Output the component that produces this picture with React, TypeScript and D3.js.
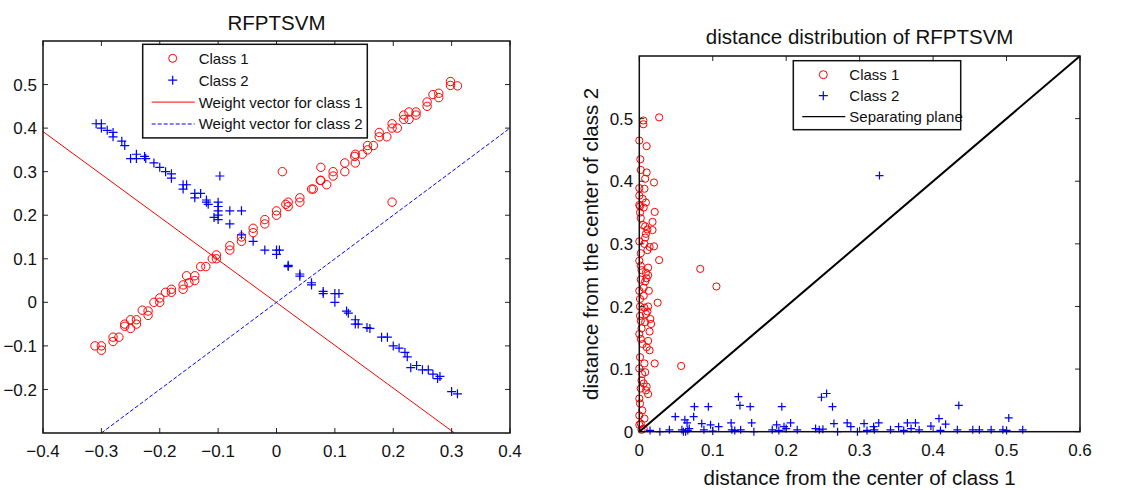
import React, { useRef, useEffect } from "react";
import * as d3 from "d3";

type Pt = [number, number];

// left panel: samples and weight vectors
const leftClass1: Pt[] = [
  [0.298, 0.507], [0.298, 0.498], [0.31, 0.497], [0.268, 0.477], [0.278, 0.48], [0.278, 0.47],
  [0.258, 0.46], [0.258, 0.45], [0.239, 0.437], [0.227, 0.437], [0.227, 0.42], [0.218, 0.43],
  [0.218, 0.42], [0.239, 0.43], [0.198, 0.41], [0.198, 0.4], [0.207, 0.4], [0.176, 0.39],
  [0.176, 0.38], [0.189, 0.38], [0.166, 0.36], [0.156, 0.36], [0.156, 0.35], [0.147, 0.34],
  [0.135, 0.34], [0.134, 0.335], [0.135, 0.32], [0.117, 0.32], [0.117, 0.3], [0.097, 0.3],
  [0.097, 0.29], [0.076, 0.31], [0.076, 0.28], [0.086, 0.27], [0.075, 0.28], [0.01, 0.3],
  [0.198, 0.23], [0.06, 0.26], [0.063, 0.26], [0.04, 0.24], [0.04, 0.23], [0.02, 0.23],
  [0.02, 0.22], [0.016, 0.225], [0.0, 0.21], [0.0, 0.2], [-0.02, 0.19], [-0.02, 0.18],
  [-0.04, 0.17], [-0.04, 0.16], [-0.06, 0.15], [-0.06, 0.14], [-0.08, 0.13], [-0.08, 0.12],
  [-0.103, 0.109], [-0.103, 0.1], [-0.11, 0.1], [-0.121, 0.082], [-0.13, 0.082], [-0.154, 0.061],
  [-0.14, 0.061], [-0.14, 0.05], [-0.15, 0.045], [-0.16, 0.04], [-0.16, 0.03], [-0.18, 0.03],
  [-0.18, 0.023], [-0.19, 0.023], [-0.2, 0.01], [-0.2, 0.0], [-0.21, 0.0], [-0.22, -0.02],
  [-0.23, -0.018], [-0.22, -0.03], [-0.24, -0.04], [-0.24, -0.05], [-0.25, -0.04], [-0.25, -0.06],
  [-0.26, -0.05], [-0.26, -0.055], [-0.27, -0.08], [-0.28, -0.08], [-0.28, -0.09], [-0.311, -0.1],
  [-0.3, -0.1], [-0.3, -0.11],
];

const leftClass2: Pt[] = [
  [-0.309, 0.41], [-0.3, 0.41], [-0.3, 0.4], [-0.29, 0.395], [-0.28, 0.39], [-0.28, 0.38],
  [-0.265, 0.37], [-0.26, 0.36], [-0.25, 0.33], [-0.24, 0.34], [-0.24, 0.33], [-0.226, 0.335],
  [-0.224, 0.33], [-0.21, 0.32], [-0.2, 0.31], [-0.19, 0.3], [-0.18, 0.295], [-0.18, 0.285],
  [-0.16, 0.27], [-0.154, 0.27], [-0.16, 0.26], [-0.14, 0.25], [-0.13, 0.25], [-0.14, 0.24],
  [-0.12, 0.235], [-0.12, 0.23], [-0.117, 0.225], [-0.1, 0.23], [-0.1, 0.22], [-0.1, 0.21],
  [-0.1, 0.2], [-0.107, 0.195], [-0.1, 0.19], [-0.097, 0.29], [-0.08, 0.21], [-0.06, 0.21],
  [-0.08, 0.18], [-0.06, 0.155], [-0.04, 0.14], [-0.02, 0.12], [0.0, 0.11], [0.0, 0.12],
  [0.005, 0.12], [0.02, 0.082], [0.02, 0.085], [0.04, 0.065], [0.04, 0.06], [0.06, 0.045],
  [0.06, 0.04], [0.08, 0.025], [0.08, 0.02], [0.1, 0.02], [0.107, 0.02], [0.1, 0.0],
  [0.12, -0.02], [0.123, -0.025], [0.135, -0.04], [0.135, -0.05], [0.14, -0.05], [0.155, -0.058],
  [0.16, -0.06], [0.18, -0.08], [0.19, -0.08], [0.2, -0.1], [0.21, -0.105], [0.22, -0.115],
  [0.224, -0.125], [0.23, -0.15], [0.24, -0.145], [0.25, -0.155], [0.26, -0.155], [0.268, -0.165],
  [0.276, -0.175], [0.28, -0.17], [0.3, -0.205], [0.31, -0.21],
];

const weight1: Pt[] = [[-0.4, 0.392], [0.305, -0.3]];
const weight2: Pt[] = [[-0.3, -0.3], [0.4, 0.4]];

// right panel: distances to the two centers
const rightClass1: Pt[] = [
  [0.0055, 0.497], [0.0055, 0.491], [0.027, 0.502], [0, 0.465], [0.01, 0.456], [0.0014, 0.435],
  [0.002, 0.418], [0.01, 0.414], [0.008, 0.404], [0.02, 0.398], [0, 0.389], [0.007, 0.388],
  [0, 0.377], [0.0045, 0.372], [0, 0.362], [0.001, 0.36], [0.006, 0.358], [0.009, 0.366],
  [0.021, 0.351], [0.002, 0.341], [0.008, 0.328], [0.018, 0.335], [0.011, 0.323], [0.018, 0.322],
  [0.009, 0.316], [0, 0.304], [0.014, 0.295], [0.02, 0.296], [0.011, 0.29], [0.027, 0.274],
  [0, 0.273], [0.002, 0.265], [0.009, 0.254], [0.002, 0.243], [0.012, 0.25], [0.008, 0.24],
  [0, 0.225], [0.006, 0.217], [0.013, 0.225], [0.001, 0.212], [0.025, 0.206], [0.007, 0.198],
  [0.001, 0.185], [0.009, 0.188], [0.015, 0.18], [0.002, 0.177], [0.016, 0.172], [0, 0.156],
  [0.014, 0.16], [0.0045, 0.14], [0.012, 0.145], [0.001, 0.119], [0.014, 0.13], [0.007, 0.109],
  [0.021, 0.109], [0, 0.101], [0.057, 0.105], [0.083, 0.26], [0.105, 0.232],
  [0.003, 0.082], [0.006, 0.077], [0.002, 0.069], [0.009, 0.066], [0, 0.053], [0.001, 0.045],
  [0.004, 0.034], [0, 0.026], [0.007, 0.021], [0.002, 0.013], [0, 0.011], [0.006, 0.005],
  [0.01, 0.072], [0.012, 0.06], [0.004, 0.092], [0.008, 0.095], [0.003, 0.003],
  [0.002, 0.148], [0.01, 0.135], [0.003, 0.165], [0.008, 0.175], [0.011, 0.192], [0.001, 0.2],
  [0.006, 0.23], [0.01, 0.245], [0.003, 0.258], [0.012, 0.262], [0.002, 0.285], [0.007, 0.3],
  [0.001, 0.35], [0.005, 0.33], [0.008, 0.31], [0.012, 0.2],
];

const rightClass2: Pt[] = [
  [0.0146, 0.002], [0.028, 0], [0.041, 0.003], [0.049, 0.024], [0.058, 0.003], [0.062, 0.019],
  [0.065, 0.014], [0.068, 0.005], [0.074, 0.024], [0.075, 0.04], [0.085, 0.013], [0.094, 0.04],
  [0.088, 0.003], [0.097, 0.011], [0.108, 0.008], [0.125, 0.014], [0.126, 0.003], [0.135, 0.056],
  [0.137, 0.042], [0.138, 0.003], [0.151, 0.04], [0.153, 0.014], [0.156, 0], [0.181, 0.003],
  [0.187, 0.011], [0.194, 0.04], [0.197, 0.008], [0.206, 0.014], [0.215, 0.003], [0.24, 0.005],
  [0.248, 0.055], [0.255, 0.061], [0.263, 0.04], [0.265, 0.013], [0.27, 0], [0.283, 0.014],
  [0.288, 0.008], [0.297, 0], [0.306, 0.013], [0.319, 0.008], [0.326, 0.014], [0.342, 0.003],
  [0.353, 0.008], [0.365, 0.014], [0.376, 0.014], [0.381, 0.003], [0.397, 0.009], [0.408, 0.021],
  [0.417, 0.012], [0.433, 0.003], [0.435, 0.042], [0.454, 0.003], [0.463, 0.003], [0.479, 0.003],
  [0.495, 0.003], [0.503, 0.022], [0.522, 0.003], [0.327, 0.409],
  [0.06, 0], [0.063, 0], [0.066, 0.002], [0.1, 0.001], [0.13, 0.002], [0.19, 0.002], [0.2, 0.005],
  [0.245, 0.003], [0.25, 0.004], [0.31, 0.002], [0.32, 0.003], [0.36, 0.002], [0.37, 0.005],
  [0.41, 0.002], [0.5, 0.002],
];

const separatingPlane: Pt[] = [[0, 0], [0.6, 0.6]];

const leftXTicks = [-0.4, -0.3, -0.2, -0.1, 0, 0.1, 0.2, 0.3, 0.4];
const leftYTicks = [-0.2, -0.1, 0, 0.1, 0.2, 0.3, 0.4, 0.5];
const rightXTicks = [0, 0.1, 0.2, 0.3, 0.4, 0.5, 0.6];
const rightYTicks = [0, 0.1, 0.2, 0.3, 0.4, 0.5];

const FONT = "'Liberation Sans', Arial, sans-serif";
const AXIS = "#262626";

const fmt = (v: number) => (Math.abs(v) < 1e-9 ? "0" : d3.format("")(+v.toFixed(2)));

const drawAxes = (g, x, y, xTicks, yTicks) => {
  const [x0, x1] = x.range();
  const [y0, y1] = y.range();
  const tl = 5;
  xTicks.forEach((t) => {
    g.append("line").attr("x1", x(t)).attr("x2", x(t)).attr("y1", y0).attr("y2", y0 - tl).attr("stroke", AXIS);
    g.append("line").attr("x1", x(t)).attr("x2", x(t)).attr("y1", y1).attr("y2", y1 + tl).attr("stroke", AXIS);
    g.append("text").attr("x", x(t)).attr("y", y0 + 24).attr("text-anchor", "middle")
      .attr("font-size", 17).attr("fill", "#111").text(fmt(t));
  });
  yTicks.forEach((t) => {
    g.append("line").attr("x1", x0).attr("x2", x0 + tl).attr("y1", y(t)).attr("y2", y(t)).attr("stroke", AXIS);
    g.append("line").attr("x1", x1).attr("x2", x1 - tl).attr("y1", y(t)).attr("y2", y(t)).attr("stroke", AXIS);
    g.append("text").attr("x", x0 - 6).attr("y", y(t)).attr("dy", "0.36em").attr("text-anchor", "end")
      .attr("font-size", 17).attr("fill", "#111").text(fmt(t));
  });
  g.append("rect").attr("x", x0).attr("y", y1).attr("width", x1 - x0).attr("height", y0 - y1)
    .attr("fill", "none").attr("stroke", "#111").attr("stroke-width", 1.5);
};

const drawCircles = (g, data, x, y, r) => {
  g.selectAll(null).data(data).enter().append("circle")
    .attr("cx", (d) => x(d[0])).attr("cy", (d) => y(d[1])).attr("r", r)
    .attr("fill", "none").attr("stroke", "#ff0000").attr("stroke-width", 1);
};

const drawCrosses = (g, data, x, y, h) => {
  g.selectAll(null).data(data).enter().append("path")
    .attr("d", (d) => {
      const cx = x(d[0]);
      const cy = y(d[1]);
      return `M${cx - h},${cy}H${cx + h}M${cx},${cy - h}V${cy + h}`;
    })
    .attr("stroke", "#0000ff").attr("stroke-width", 1.2).attr("fill", "none");
};

const drawLegend = (g, x, y, w, rowH, items) => {
  g.append("rect").attr("x", x).attr("y", y).attr("width", w).attr("height", rowH * items.length + 6)
    .attr("fill", "#fff").attr("stroke", "#111").attr("stroke-width", 1.5);
  items.forEach((it, i) => {
    const cy = y + 14 + i * rowH;
    const mx = x + 30;
    if (it.kind === "circle") {
      g.append("circle").attr("cx", mx).attr("cy", cy).attr("r", 4).attr("fill", "none").attr("stroke", "#ff0000");
    } else if (it.kind === "cross") {
      g.append("path").attr("d", `M${mx - 4.5},${cy}H${mx + 4.5}M${mx},${cy - 4.5}V${cy + 4.5}`)
        .attr("stroke", "#0000ff").attr("stroke-width", 1.2);
    } else {
      g.append("line").attr("x1", x + 9).attr("x2", x + 52).attr("y1", cy).attr("y2", cy)
        .attr("stroke", it.color).attr("stroke-width", it.width || 1)
        .attr("stroke-dasharray", it.dash || null);
    }
    g.append("text").attr("x", x + 56).attr("y", cy).attr("dy", "0.36em")
      .attr("font-size", 15).attr("fill", "#111").text(it.label);
  });
};

const Chart = () => {
  const svgRef = useRef(null);

  useEffect(() => {
    const svg = d3.select(svgRef.current);
    svg.selectAll("*").remove();
    svg.attr("font-family", FONT);

    // ---------- left panel ----------
    const xL = d3.scaleLinear().domain([-0.4, 0.4]).range([43, 510]);
    const yL = d3.scaleLinear().domain([-0.3, 0.6]).range([433, 41]);
    const gL = svg.append("g");

    svg.append("defs").append("clipPath").attr("id", "clipL")
      .append("rect").attr("x", 43).attr("y", 41).attr("width", 467).attr("height", 392);

    const line = (xs, ys) => d3.line<Pt>().x((d) => xs(d[0])).y((d) => ys(d[1]));

    drawCircles(gL, leftClass1, xL, yL, 4.2);
    drawCrosses(gL, leftClass2, xL, yL, 4.5);
    gL.append("path").attr("clip-path", "url(#clipL)").attr("d", line(xL, yL)(weight1))
      .attr("stroke", "#ff0000").attr("fill", "none").attr("stroke-width", 1);
    gL.append("path").attr("clip-path", "url(#clipL)").attr("d", line(xL, yL)(weight2))
      .attr("stroke", "#0000ff").attr("fill", "none").attr("stroke-width", 1).attr("stroke-dasharray", "4,2");
    drawAxes(gL, xL, yL, leftXTicks, leftYTicks);

    gL.append("text").attr("x", (43 + 510) / 2).attr("y", 30).attr("text-anchor", "middle")
      .attr("font-size", 20.5).attr("fill", "#111").text("RFPTSVM");

    drawLegend(gL, 142.7, 44.3, 224.6, 21.9, [
      { kind: "circle", label: "Class 1" },
      { kind: "cross", label: "Class 2" },
      { kind: "line", label: "Weight vector for class 1", color: "#ff0000" },
      { kind: "line", label: "Weight vector for class 2", color: "#0000ff", dash: "4,2" },
    ]);

    // ---------- right panel ----------
    const xR = d3.scaleLinear().domain([0, 0.6]).range([639.3, 1080]);
    const yR = d3.scaleLinear().domain([0, 0.6]).range([431.7, 56]);
    const gR = svg.append("g");

    drawCircles(gR, rightClass1, xR, yR, 3.6);
    drawCrosses(gR, rightClass2, xR, yR, 4);
    gR.append("path").attr("d", line(xR, yR)(separatingPlane))
      .attr("stroke", "#000").attr("fill", "none").attr("stroke-width", 2);
    drawAxes(gR, xR, yR, rightXTicks, rightYTicks);

    gR.append("text").attr("x", (639.3 + 1080) / 2).attr("y", 44).attr("text-anchor", "middle")
      .attr("font-size", 20.5).attr("fill", "#111").text("distance distribution of RFPTSVM");
    gR.append("text").attr("x", (639.3 + 1080) / 2).attr("y", 485).attr("text-anchor", "middle")
      .attr("font-size", 20.5).attr("fill", "#111").text("distance from the center of class 1");
    gR.append("text").attr("transform", `translate(598,${(56 + 431.7) / 2}) rotate(-90)`)
      .attr("text-anchor", "middle").attr("font-size", 20.5).attr("fill", "#111")
      .text("distance from the center of class 2");

    drawLegend(gR, 793.3, 60.7, 167.4, 21, [
      { kind: "circle", label: "Class 1" },
      { kind: "cross", label: "Class 2" },
      { kind: "line", label: "Separating plane", color: "#000", width: 1.2 },
    ]);
  }, []);

  return (
    <svg ref={svgRef} width={1137} height={490}
      style={{ position: "absolute", left: 0, top: 0, background: "#fff" }} />
  );
};

export default function App() {
  return <Chart />;
}
